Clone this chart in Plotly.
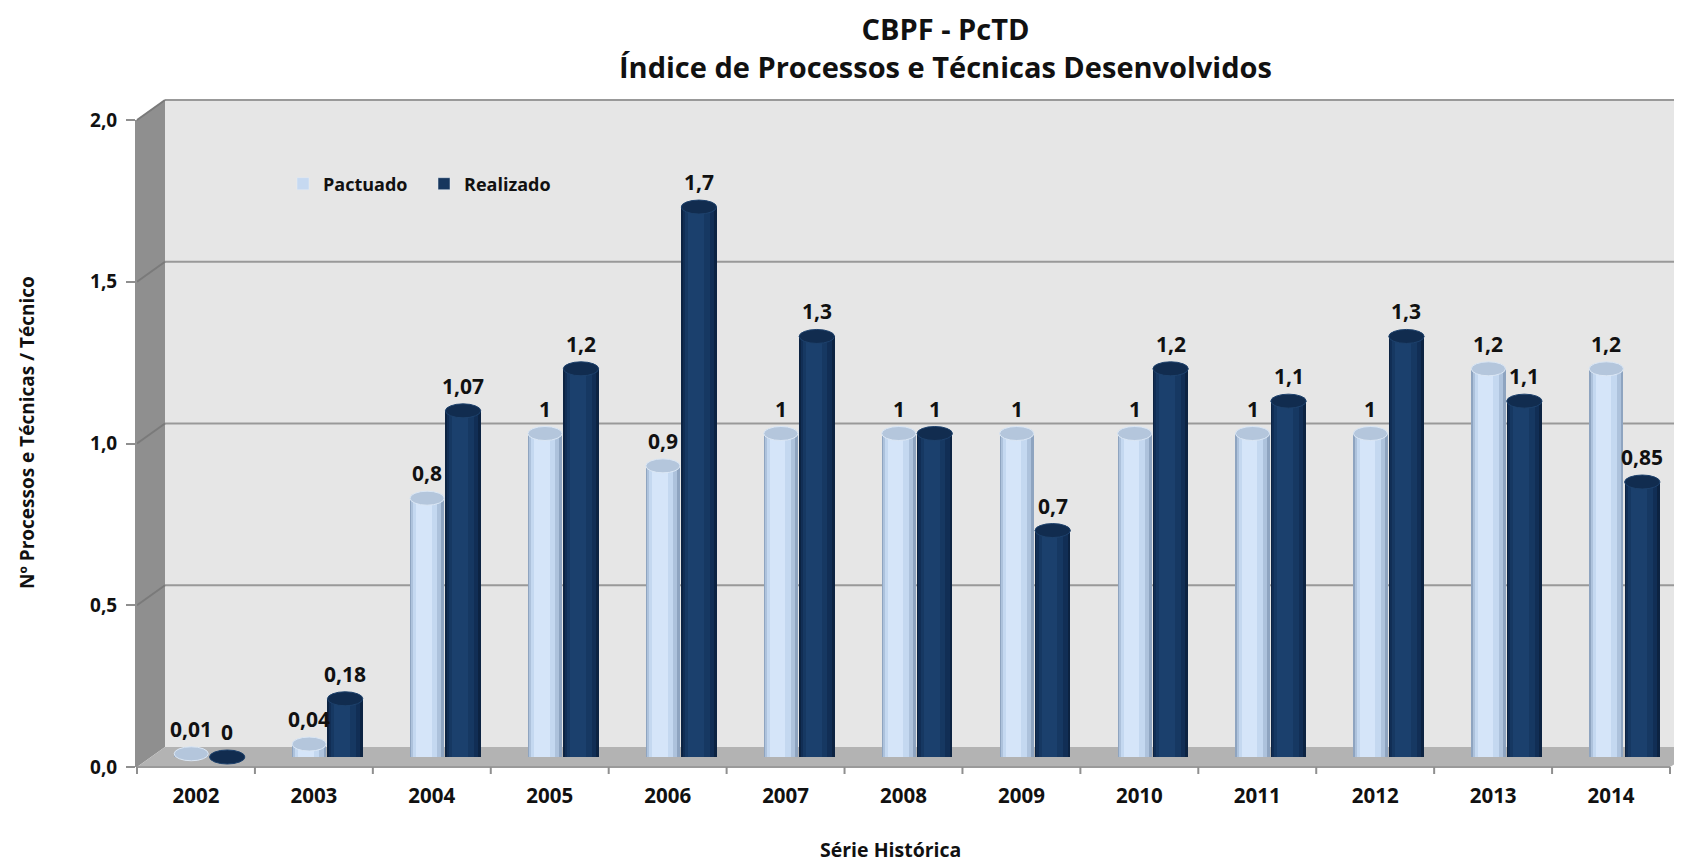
import plotly.graph_objects as go

# ---------------- data ----------------
years = ["2002", "2003", "2004", "2005", "2006", "2007", "2008",
         "2009", "2010", "2011", "2012", "2013", "2014"]
pactuado = [0.01, 0.04, 0.8, 1, 0.9, 1, 1, 1, 1, 1, 1, 1.2, 1.2]
realizado = [0, 0.18, 1.07, 1.2, 1.7, 1.3, 1, 0.7, 1.2, 1.1, 1.3, 1.1, 0.85]
y_ticks = [0, 0.5, 1.0, 1.5, 2.0]
y_tick_text = ["0,0", "0,5", "1,0", "1,5", "2,0"]

title_l1 = "CBPF - PcTD"
title_l2 = "Índice de Processos e Técnicas Desenvolvidos"
x_title = "Série Histórica"
y_title = "Nº Processos e Técnicas / Técnico"


def br(v):
    return ("%g" % v).replace(".", ",")


# ---------------- layout geometry (page pixels) ----------------
PAGE_W, PAGE_H = 1682, 864
OFF = 8                   # default body margin of the html page
W, H = PAGE_W - OFF, PAGE_H - OFF
L, R = 137, 1670          # front x-axis extent
T, B = 120, 767           # front y-axis: 2.0 at T, 0.0 at B
DX, DY = 28, 20           # depth offset of the 3D box
PW, PH = R - L, B - T
n = len(years)
uy = PH / 2.0             # pixels per y unit

FONT = "Open Sans"
TXT = "#111111"
LIGHT = "#c6d9f1"
DARK = "#17375e"


def px(xp):
    return (xp - L) / PW


def py(yp):
    return (B - yp) / PH


shapes = []
# back wall
shapes.append(dict(type="rect", xref="paper", yref="paper",
                   x0=px(L + DX), x1=px(PAGE_W + 5), y0=py(B - DY), y1=py(T - DY),
                   fillcolor="#e6e6e6", line=dict(width=0), layer="below"))
# left side wall
shapes.append(dict(type="path", xref="paper", yref="paper",
                   path="M %f %f L %f %f L %f %f L %f %f Z" % (
                       px(L), py(T), px(L + DX), py(T - DY),
                       px(L + DX), py(B - DY), px(L), py(B)),
                   fillcolor="#8f8f8f", line=dict(width=0), layer="below"))
# floor
shapes.append(dict(type="path", xref="paper", yref="paper",
                   path="M %f %f L %f %f L %f %f L %f %f Z" % (
                       px(L), py(B), px(L + DX), py(B - DY),
                       px(PAGE_W + 20), py(B - DY), px(R), py(B)),
                   fillcolor="#b3b3b3", line=dict(width=0), layer="below"))
# gridlines on back wall + side wall
for v in y_ticks[1:]:
    yb = B - DY - v * uy
    yf = B - v * uy
    shapes.append(dict(type="line", xref="paper", yref="paper",
                       x0=px(L + DX), x1=px(PAGE_W + 5), y0=py(yb), y1=py(yb),
                       line=dict(color="#999999", width=2), layer="below"))
    shapes.append(dict(type="line", xref="paper", yref="paper",
                       x0=px(L), x1=px(L + DX), y0=py(yf), y1=py(yb),
                       line=dict(color="#7a7a7a", width=2), layer="below"))
# floor front edge
shapes.append(dict(type="line", xref="paper", yref="paper",
                   x0=px(L), x1=px(R), y0=py(B), y1=py(B),
                   line=dict(color="#9a9a9a", width=2), layer="below"))
# category separator ticks on the front floor edge
for k in range(n + 1):
    shapes.append(dict(type="line", xref="paper", yref="paper",
                       x0=k / n, x1=k / n, y0=py(B), y1=py(B + 7),
                       line=dict(color="#8f8f8f", width=2)))

fig = go.Figure()
xs = list(range(n))

# invisible trace so the labelled y axis is drawn
fig.add_trace(go.Scatter(x=[0], y=[0], mode="markers", marker=dict(opacity=0),
                         showlegend=False, hoverinfo="skip"))

# bar geometry in category units (shifted to mid-depth of the box)
P_OFF, P_W = -0.185, 0.29
R_OFF, R_W = 0.115, 0.30

# cylinder shading layers: (fraction of width, centre shift fraction, colour)
light_layers = [(1.0, 0.0, "#8ea4c0"), (0.88, -0.02, "#adc2dc"),
                (0.70, -0.05, "#c4d8f0"), (0.45, -0.09, "#d5e5f9")]
dark_layers = [(1.0, 0.0, "#0c2342"), (0.88, -0.02, "#112e55"),
               (0.70, -0.05, "#163862"), (0.45, -0.09, "#1b406d")]

ELL = 7.0 / uy   # half height of the cylinder top ellipse (y units)


def add_cyl(values, off, w, layers, name, legend_color, top_fill, top_line):
    for i, (f, sh, col) in enumerate(layers):
        ww = w * f
        o = off + (w - ww) / 2 + sh * w
        fig.add_trace(go.Bar(
            x=xs, y=values, width=ww, offset=o, yaxis="y2",
            marker=dict(color=col, line=dict(width=0)),
            name=name, showlegend=False, hoverinfo="skip" if i else "y"))
    fig.add_trace(go.Bar(x=[None], y=[None], name=name, yaxis="y2",
                         marker=dict(color=legend_color), showlegend=True))
    for i, v in enumerate(values):
        shapes.append(dict(type="circle", xref="x", yref="y2",
                           x0=xs[i] + off, x1=xs[i] + off + w,
                           y0=v - ELL, y1=v + ELL,
                           fillcolor=top_fill, line=dict(color=top_line, width=1)))


add_cyl(pactuado, P_OFF, P_W, light_layers, "Pactuado", LIGHT, "#b4c6dc", "#dbe7f5")
add_cyl(realizado, R_OFF, R_W, dark_layers, "Realizado", DARK, "#112c4f", "#1d416c")

annotations = []
lab_font = dict(family=FONT, size=21, color=TXT, weight="bold")
for i in range(n):
    annotations.append(dict(x=xs[i] + P_OFF + P_W / 2, y=pactuado[i],
                            xref="x", yref="y2", text=br(pactuado[i]),
                            showarrow=False, yshift=25, yanchor="middle", font=lab_font))
    annotations.append(dict(x=xs[i] + R_OFF + R_W / 2, y=realizado[i],
                            xref="x", yref="y2", text=br(realizado[i]),
                            showarrow=False, yshift=25, yanchor="middle", font=lab_font))

annotations.append(dict(x=px(945), y=py(47.5), xref="paper", yref="paper",
                        text=title_l1 + "<br>" + title_l2, showarrow=False,
                        yanchor="middle", align="center",
                        font=dict(family=FONT, size=29, color=TXT, weight="bold")))
annotations.append(dict(x=px(890), y=py(849), xref="paper", yref="paper",
                        text=x_title, showarrow=False, yanchor="middle",
                        font=dict(family=FONT, size=19.5, color=TXT, weight="bold")))
annotations.append(dict(x=px(27), y=py(433), xref="paper", yref="paper",
                        text=y_title, showarrow=False, textangle=-90,
                        xanchor="center", yanchor="middle",
                        font=dict(family=FONT, size=19, color=TXT, weight="bold")))

shift_u = (DY / 2) / uy
fig.update_layout(
    width=W, height=H,
    margin=dict(l=L - OFF, r=PAGE_W - R, t=T - OFF, b=PAGE_H - B, pad=0),
    paper_bgcolor="white", plot_bgcolor="rgba(0,0,0,0)",
    barmode="overlay", bargap=0,
    shapes=shapes, annotations=annotations,
    font=dict(family=FONT, color=TXT),
    showlegend=True,
    legend=dict(orientation="h", x=px(283), y=py(184), xanchor="left", yanchor="middle",
                bgcolor="rgba(0,0,0,0)", entrywidth=96, entrywidthmode="pixels",
                font=dict(family=FONT, size=18, color=TXT, weight="bold"),
                traceorder="normal", itemclick=False),
    xaxis=dict(range=[-0.5, n - 0.5], tickmode="array", tickvals=xs, ticktext=years,
               showgrid=False, zeroline=False, showline=False,
               ticks="", tickfont=dict(family=FONT, size=20.5, color=TXT, weight="bold"),
               ticklabelstandoff=14),
    yaxis=dict(range=[0, 2], tickmode="array", tickvals=y_ticks, ticktext=y_tick_text,
               showgrid=False, zeroline=False, showline=True, linecolor="#8f8f8f",
               linewidth=2, ticks="outside", ticklen=9, tickcolor="#8f8f8f", tickwidth=2,
               tickfont=dict(family=FONT, size=19, color=TXT, weight="bold"),
               ticklabelstandoff=5),
    yaxis2=dict(range=[-shift_u, 2 - shift_u], overlaying="y", visible=False),
)

fig.write_html("out.html")
